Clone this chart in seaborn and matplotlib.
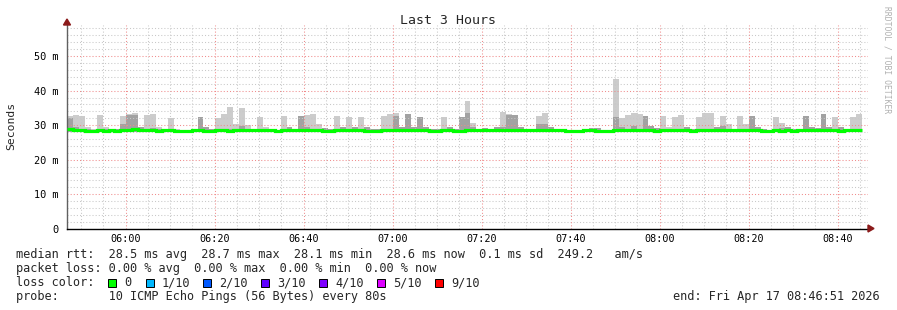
import numpy as np
import pandas as pd
import matplotlib
matplotlib.use("Agg")
import matplotlib.pyplot as plt
import seaborn as sns
from matplotlib.patches import Rectangle, Polygon

# ---------------- data ----------------
start_min = 5 * 60 + 46 + 51 / 60.0   # 05:46:51 in minutes since midnight
step_min = 80 / 60.0                    # 80 s step

smoke_top = [
    32.6, 33.0, 32.6, 29.4, 28.9, 33.0, 29.6, 28.7, 28.9, 32.6,
    33.2, 33.4, 29.4, 33.0, 33.2, 29.4, 28.9, 32.1, 28.9, 28.7,
    28.7, 28.9, 32.3, 29.4, 29.0, 32.1, 33.2, 35.3, 30.2, 35.0,
    30.0, 28.8, 32.3, 29.4, 28.8, 28.7, 32.6, 29.4, 28.9, 32.6,
    33.0, 33.2, 30.2, 29.2, 28.9, 32.6, 29.4, 32.3, 29.4, 32.3,
    29.4, 28.8, 28.8, 32.6, 33.1, 33.4, 29.4, 33.2, 29.4, 32.4,
    29.4, 28.9, 28.8, 32.3, 29.4, 29.0, 32.3, 36.9, 30.7, 28.9,
    29.2, 28.9, 29.4, 33.9, 33.3, 33.0, 29.6, 28.8, 28.8, 32.6,
    33.4, 29.6, 29.0, 28.8, 28.6, 28.6, 28.6, 28.8, 29.1, 29.1,
    28.6, 28.6, 43.5, 32.1, 33.0, 33.4, 33.1, 32.6, 29.8, 29.2,
    32.6, 29.4, 32.3, 33.0, 29.6, 28.8, 32.3, 33.4, 33.4, 29.4,
    32.6, 30.2, 28.8, 32.6, 30.3, 32.6, 29.4, 28.8, 28.6, 32.3,
    30.7, 29.6, 28.8, 28.6, 32.6, 29.4, 29.2, 33.2, 29.4, 32.3,
    29.4, 28.8, 32.3, 33.1,
]

smoke_mid = [
    32.1, 29.6, 28.8, 28.8, 28.6, 28.8, 28.8, 28.7, 28.9, 30.2,
    32.9, 33.0, 29.4, 29.0, 29.2, 28.9, 28.7, 28.8, 28.7, 28.6,
    28.6, 28.9, 32.3, 29.4, 29.0, 28.8, 28.8, 28.8, 28.6, 29.8,
    29.0, 28.8, 28.8, 28.9, 28.8, 28.7, 28.9, 29.4, 28.9, 32.6,
    29.4, 29.0, 28.9, 29.2, 28.9, 28.9, 29.4, 28.9, 29.4, 28.9,
    29.4, 28.8, 28.8, 28.9, 29.0, 32.6, 29.4, 33.2, 29.4, 32.4,
    29.4, 28.9, 28.8, 28.9, 29.4, 29.0, 32.3, 33.6, 29.4, 28.9,
    29.2, 28.9, 29.4, 29.4, 33.0, 33.0, 29.6, 28.8, 28.8, 30.2,
    30.3, 29.6, 29.0, 28.8, 28.6, 28.6, 28.6, 28.8, 29.1, 29.1,
    28.6, 28.6, 32.4, 29.4, 29.0, 29.8, 29.0, 32.6, 29.8, 29.2,
    28.9, 29.0, 28.9, 29.0, 29.6, 28.8, 28.9, 29.0, 29.0, 29.4,
    29.8, 29.0, 28.8, 28.9, 29.0, 32.6, 29.4, 28.8, 28.6, 28.9,
    29.2, 29.6, 28.8, 28.6, 32.6, 29.4, 29.2, 33.2, 29.4, 28.9,
    29.4, 28.8, 28.9, 29.0,
]

smoke_low = [
    28.1, 28.1, 28.0, 28.0, 28.0, 28.1, 28.0, 28.0, 27.9, 28.0,
    28.0, 28.1, 28.1, 28.0, 28.1, 28.0, 28.0, 28.1, 28.0, 28.0,
    28.0, 28.1, 28.1, 28.0, 28.0, 28.0, 28.0, 28.0, 28.0, 28.1,
    28.1, 28.0, 28.0, 28.1, 28.0, 28.0, 28.0, 28.1, 28.1, 28.1,
    28.0, 28.0, 28.0, 28.0, 28.0, 28.0, 28.0, 28.1, 28.0, 28.0,
    28.0, 28.0, 28.0, 28.0, 28.1, 28.1, 28.0, 28.1, 28.1, 28.0,
    28.0, 28.0, 28.0, 28.1, 28.0, 28.0, 28.0, 28.0, 28.1, 28.0,
    28.0, 28.0, 28.0, 28.1, 28.1, 28.1, 28.1, 28.0, 28.0, 28.0,
    28.1, 28.1, 28.0, 28.0, 28.0, 28.0, 28.0, 28.0, 28.0, 28.0,
    28.0, 28.0, 28.0, 28.1, 28.0, 28.1, 28.0, 28.1, 28.0, 28.0,
    28.0, 28.0, 28.0, 28.1, 28.0, 28.0, 28.0, 28.0, 28.0, 28.0,
    28.1, 28.0, 28.0, 28.0, 28.1, 28.0, 28.0, 28.0, 28.0, 28.0,
    28.0, 28.0, 28.0, 28.0, 28.1, 28.0, 28.0, 28.0, 28.0, 28.0,
    28.0, 28.0, 28.1, 28.1,
]

median_rtt = [
    28.8, 28.7, 28.5, 28.4, 28.4, 28.5, 28.4, 28.5, 28.4, 28.5,
    28.6, 28.8, 28.5, 28.5, 28.5, 28.4, 28.5, 28.6, 28.4, 28.4,
    28.4, 28.6, 28.5, 28.4, 28.4, 28.5, 28.5, 28.4, 28.5, 28.6,
    28.7, 28.5, 28.5, 28.7, 28.5, 28.4, 28.5, 28.5, 28.7, 28.7,
    28.5, 28.5, 28.5, 28.4, 28.4, 28.5, 28.5, 28.5, 28.5, 28.5,
    28.4, 28.4, 28.4, 28.5, 28.5, 28.6, 28.5, 28.7, 28.7, 28.6,
    28.5, 28.4, 28.4, 28.5, 28.5, 28.4, 28.4, 28.5, 28.5, 28.5,
    28.5, 28.5, 28.5, 28.6, 28.7, 28.7, 28.7, 28.5, 28.5, 28.6,
    28.7, 28.7, 28.5, 28.5, 28.4, 28.4, 28.4, 28.5, 28.5, 28.4,
    28.4, 28.4, 28.5, 28.7, 28.5, 28.7, 28.6, 28.7, 28.5, 28.4,
    28.5, 28.5, 28.5, 28.7, 28.5, 28.4, 28.5, 28.5, 28.5, 28.5,
    28.7, 28.5, 28.5, 28.5, 28.6, 28.5, 28.5, 28.4, 28.4, 28.5,
    28.4, 28.5, 28.4, 28.5, 28.7, 28.5, 28.5, 28.5, 28.5, 28.5,
    28.4, 28.5, 28.7, 28.7,
]

x_ticks = [360, 380, 400, 420, 440, 460, 480, 500, 520]
x_labels = ["06:00", "06:20", "06:40", "07:00", "07:20", "07:40", "08:00", "08:20", "08:40"]
y_ticks = [0, 10, 20, 30, 40, 50]
y_labels = ["0", "10 m", "20 m", "30 m", "40 m", "50 m"]

loss_labels = ["0", "1/10", "2/10", "3/10", "4/10", "5/10", "9/10"]
loss_colors = ["#00ff00", "#00b8ff", "#0059ff", "#5e00ff", "#7e00ff", "#dd00ff", "#ff0000"]

stats_line = "median rtt:  28.5 ms avg  28.7 ms max  28.1 ms min  28.6 ms now  0.1 ms sd  249.2   am/s"
loss_line = "packet loss: 0.00 % avg  0.00 % max  0.00 % min  0.00 % now"
probe_line = "probe:       10 ICMP Echo Pings (56 Bytes) every 80s"
end_line = "end: Fri Apr 17 08:46:51 2026"

# ---------------- figure ----------------
sns.set_theme(style="white")
plt.rcParams['font.family'] = ['DejaVu Sans Mono', 'DejaVu Sans']

W, H = 897, 310
fig = plt.figure(figsize=(W / 100, H / 100), dpi=100)
fig.patch.set_facecolor("white")


def fx(px):
    return px / W


def fy(py):
    return 1 - py / H


ax_l, ax_r, ax_t, ax_b = 67, 868, 25, 228.7
ax = fig.add_axes([fx(ax_l), fy(ax_b), (ax_r - ax_l) / W, (ax_b - ax_t) / H])
ax.set_facecolor("white")

n = len(median_rtt)
t = start_min + step_min * np.arange(n)
top = np.array(smoke_top)
mid = np.array(smoke_mid)
low = np.array(smoke_low)

ax.bar(t, top - low, bottom=low, width=step_min, align="edge",
       color="#cccccc", linewidth=0, zorder=1)
ax.bar(t, mid - low, bottom=low, width=step_min, align="edge",
       color="#a2a2a2", linewidth=0, zorder=1.1)

df = pd.DataFrame({"t": np.append(t, t[-1] + step_min),
                   "median": np.append(median_rtt, median_rtt[-1])})
sns.lineplot(data=df, x="t", y="median", drawstyle="steps-post",
             color="#00ff00", linewidth=2.3, ax=ax, zorder=3,
             solid_capstyle="butt", solid_joinstyle="miter")

ax.set_xlim(start_min, start_min + 180)
ax.set_ylim(0, 59)

# grid
dots = (0, (1, 2))
minor_x = np.arange(350, 527, 5)
for v in minor_x:
    if v not in x_ticks:
        ax.axvline(v, color="#c8c8c8", lw=0.75, ls=dots, zorder=2)
for v in np.arange(2, 59, 2):
    if v % 10 != 0:
        ax.axhline(v, color="#c8c8c8", lw=0.75, ls=dots, zorder=2)
for v in x_ticks:
    ax.axvline(v, color="#f08c8c", lw=0.75, ls=dots, zorder=2.2)
for v in y_ticks[1:]:
    ax.axhline(v, color="#f08c8c", lw=0.75, ls=dots, zorder=2.2)

ax.set_xticks(x_ticks)
ax.set_xticklabels(x_labels, fontsize=7.3)
ax.set_yticks(y_ticks)
ax.set_yticklabels(y_labels, fontsize=7.4)
ax.tick_params(axis="both", length=0, colors="black")
ax.tick_params(axis="x", pad=4)
ax.tick_params(axis="y", pad=6)
ax.set_xlabel("")
ax.set_ylabel("")

for s in ["top", "right"]:
    ax.spines[s].set_visible(False)
ax.spines["left"].set_color("#606060")
ax.spines["left"].set_linewidth(1.0)
ax.spines["bottom"].set_color("black")
ax.spines["bottom"].set_linewidth(1.0)

# arrows
fig.patches.append(Polygon([[fx(63.5), fy(25)], [fx(70.5), fy(25)], [fx(67), fy(19)]],
                           closed=True, color="#8b1a1a", transform=fig.transFigure))
fig.patches.append(Polygon([[fx(868), fy(225)], [fx(868), fy(232)], [fx(874), fy(228.5)]],
                           closed=True, color="#8b1a1a", transform=fig.transFigure))

# titles
fig.text(fx(448), fy(20), "Last 3 Hours", ha="center", va="center", fontsize=9.5)
fig.text(fx(11), fy(126), "Seconds", ha="center", va="center", rotation=90, fontsize=8.2)
fig.text(fx(887), fy(60), "RRDTOOL / TOBI OETIKER", ha="center", va="center",
         rotation=270, fontsize=5.8, color="#b0b0b0")

# legend text
fs = 8.55
fig.text(fx(16), fy(254.5), stats_line, ha="left", va="center", fontsize=fs)
fig.text(fx(16), fy(268.5), loss_line, ha="left", va="center", fontsize=fs)
fig.text(fx(16), fy(282.5), "loss color:", ha="left", va="center", fontsize=fs)
sq_x = [108, 145.7, 203.3, 261.3, 319.3, 376.7, 435]
for xx, lab, col in zip(sq_x, loss_labels, loss_colors):
    fig.patches.append(Rectangle((fx(xx), fy(286.5)), 8 / W, 8 / H, facecolor=col,
                                 edgecolor="black", linewidth=0.7, transform=fig.transFigure))
    fig.text(fx(xx + 16), fy(282.5), lab, ha="left", va="center", fontsize=fs)
fig.text(fx(16), fy(296.5), probe_line, ha="left", va="center", fontsize=fs)
fig.text(fx(880), fy(296.5), end_line, ha="right", va="center", fontsize=fs)

fig.savefig("out.png", dpi=100)
